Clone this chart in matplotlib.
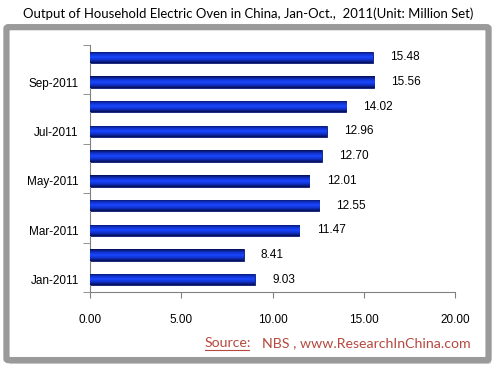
import numpy as np
import matplotlib
matplotlib.use('Agg')
from matplotlib import pyplot as plt
from matplotlib.patches import FancyBboxPatch
from matplotlib.colors import LinearSegmentedColormap

months = ['Jan-2011', 'Feb-2011', 'Mar-2011', 'Apr-2011', 'May-2011',
          'Jun-2011', 'Jul-2011', 'Aug-2011', 'Sep-2011', 'Oct-2011']
output = [9.03, 8.41, 11.47, 12.55, 12.01, 12.70, 12.96, 14.02, 15.56, 15.48]
x_ticks = [0, 5, 10, 15, 20]

fig = plt.figure(figsize=(4.97, 3.72), dpi=100)
fig.patch.set_facecolor('white')

# рамка с тенью
shadow = FancyBboxPatch((0.022, 0.026), 0.962, 0.885, boxstyle='round,pad=0.004',
                        transform=fig.transFigure, facecolor='#c8c8c8',
                        edgecolor='none', zorder=0)
frame = FancyBboxPatch((0.017, 0.036), 0.962, 0.887, boxstyle='round,pad=0.004',
                       transform=fig.transFigure, facecolor='white',
                       edgecolor='#9a9a9a', linewidth=4.5, zorder=1)
fig.patches.extend([shadow, frame])

fig.text(0.5, 0.962, 'Output of Household Electric Oven in China, Jan-Oct.,  2011(Unit: Million Set)',
         ha='center', va='center', fontsize=9.45, family='Lato')

ax = fig.add_axes([0.181, 0.215, 0.735, 0.664])
ax.set_facecolor('none')
ax.set_zorder(2)

y = np.arange(len(months))
h = 0.46
bars = ax.barh(y, output, height=h, color='#1432d0', edgecolor='#0a1a70', linewidth=0.6, zorder=2)

# градиент на столбцах
cmap = LinearSegmentedColormap.from_list('bl', ['#050e50', '#1030c8', '#1a48ff', '#1030c8', '#050e50'])
grad = np.linspace(0, 1, 64).reshape(-1, 1)
for b in bars:
    x0, y0 = b.get_x(), b.get_y()
    im = ax.imshow(grad, cmap=cmap, aspect='auto', zorder=3,
                   extent=[x0, x0 + b.get_width(), y0, y0 + b.get_height()])
    im.set_clip_path(b)

for yi, v in zip(y, output):
    ax.text(v + 0.95, yi, f'{v:.2f}', va='center', ha='left', fontsize=8.5, family='Liberation Sans')

ax.set_xlim(0, 20)
ax.set_ylim(-0.5, 9.5)
ax.set_xticks(x_ticks)
ax.set_xticklabels([f'{t:.2f}' for t in x_ticks], fontsize=8.5, family='Liberation Sans')
ax.set_yticks(y[::2])
ax.set_yticklabels(months[::2], fontsize=8.5, family='Liberation Sans')
ax.tick_params(axis='y', length=0, pad=8)
ax.set_yticks(np.arange(-0.5, 10, 2), minor=True)
ax.tick_params(axis='y', which='minor', length=5, color='#808080')
ax.tick_params(axis='x', length=4, color='#808080', pad=12)
for s in ['top', 'right']:
    ax.spines[s].set_visible(False)
for s in ['left', 'bottom']:
    ax.spines[s].set_color('#808080')

# источник
fig.text(0.411, 0.068, 'Source:', fontsize=10.2, color='#b5493f', family='Lato')
fig.text(0.528, 0.068, 'NBS , www.ResearchInChina.com', fontsize=10.2, color='#b5493f', family='Lato')
fig.add_artist(plt.Line2D([0.413, 0.5], [0.060, 0.060], transform=fig.transFigure,
                          color='#b5493f', linewidth=0.8))

fig.savefig('out.png', dpi=100)
